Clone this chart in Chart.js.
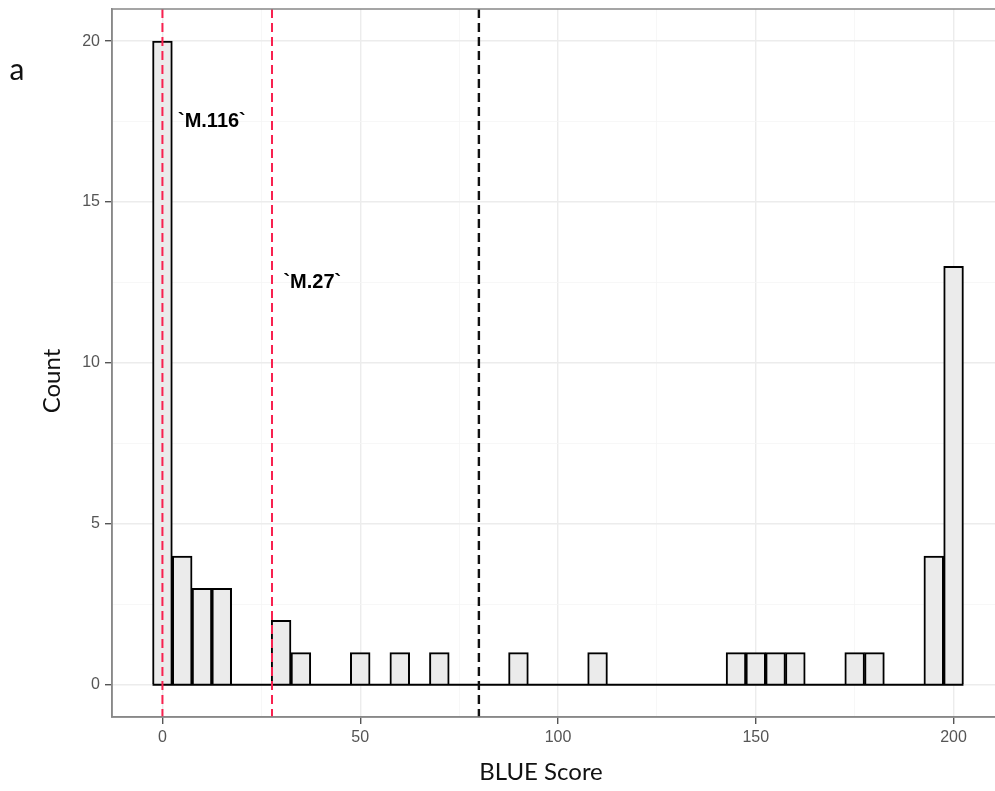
<!DOCTYPE html>
<html>
<head>
<meta charset="utf-8">
<script src="https://cdn.jsdelivr.net/npm/chart.js@4.4.1/dist/chart.umd.min.js"></script>
<style>
  html, body { margin: 0; padding: 0; background: #fff; overflow: hidden; width: 995px; height: 791px; }
  canvas { display: block; }
</style>
</head>
<body>
<canvas id="blueChart" width="1020" height="791"></canvas>
<script>
// histogram bins (centre of each 5-point bin) and counts
const binCenters = [0, 5, 10, 15, 20, 25, 30, 35, 40, 45, 50, 55, 60, 65, 70, 75, 80, 85, 90, 95,
    100, 105, 110, 115, 120, 125, 130, 135, 140, 145, 150, 155, 160, 165, 170, 175, 180, 185, 190, 195, 200];
const counts = [20, 4, 3, 3, 0, 0, 2, 1, 0, 0, 1, 0, 1, 0, 1, 0, 0, 0, 1, 0,
    0, 0, 1, 0, 0, 0, 0, 0, 0, 1, 1, 1, 1, 0, 0, 1, 1, 0, 0, 4, 13];
const binWidth = 5;

const xTickLabels = [0, 50, 100, 150, 200];
const xGridValues = [0, 25, 50, 75, 100, 125, 150, 175, 200];
const yTickLabels = [0, 5, 10, 15, 20];
const yGridValues = [0, 2.5, 5, 7.5, 10, 12.5, 15, 17.5, 20];

// reference lines: two model scores (red) and the mean (black)
const modelLineValues = [0, 27.7];
const meanLineValue = 80;
const modelLabels = ['`M.116`', '`M.27`'];
const modelLabelX = [12.5, 37.9];
const modelLabelY = [17.5, 12.5];

const barData = binCenters.map((x, i) => ({ x: x, y: counts[i] }));
const baseData = [
    { x: binCenters[0] - binWidth / 2, y: 0 },
    { x: binCenters[binCenters.length - 1] + binWidth / 2, y: 0 }
];

const isMajor = (v, list) => list.includes(v);

const overlay = {
    id: 'overlay',
    afterDatasetsDraw(chart) {
        const { ctx, chartArea: a, scales: { x, y } } = chart;
        ctx.save();
        ctx.lineWidth = 2;
        ctx.setLineDash([9, 5]);
        modelLineValues.forEach(v => {
            const px = x.getPixelForValue(v);
            ctx.strokeStyle = '#f8214f';
            ctx.beginPath();
            ctx.moveTo(px, a.top);
            ctx.lineTo(px, a.bottom);
            ctx.stroke();
        });
        const mx = x.getPixelForValue(meanLineValue);
        ctx.strokeStyle = '#111';
        ctx.lineWidth = 2.4;
        ctx.beginPath();
        ctx.moveTo(mx, a.top);
        ctx.lineTo(mx, a.bottom);
        ctx.stroke();
        ctx.setLineDash([]);

        ctx.fillStyle = '#000';
        ctx.font = 'bold 20px "Liberation Sans", Arial, sans-serif';
        ctx.textAlign = 'center';
        ctx.textBaseline = 'middle';
        modelLabels.forEach((t, i) => {
            ctx.fillText(t, x.getPixelForValue(modelLabelX[i]), y.getPixelForValue(modelLabelY[i]));
        });

        // panel border
        ctx.strokeStyle = '#888';
        ctx.lineWidth = 1.5;
        ctx.strokeRect(a.left, a.top, a.right - a.left, a.bottom - a.top);
        ctx.restore();
    },
    afterDraw(chart) {
        const { ctx } = chart;
        ctx.save();
        ctx.fillStyle = '#111';
        ctx.textAlign = 'center';
        ctx.textBaseline = 'middle';
        ctx.font = '24px Lato, sans-serif';
        ctx.fillText('BLUE Score', 541, 772);
        ctx.save();
        ctx.translate(52, 381);
        ctx.rotate(-Math.PI / 2);
        ctx.fillText('Count', 0, 0);
        ctx.restore();
        ctx.font = '30px Lato, sans-serif';
        ctx.fillText('a', 17, 70);
        ctx.restore();
    }
};

const tickFont = { family: 'Liberation Sans', size: 16 };

new Chart(document.getElementById('blueChart').getContext('2d'), {
    type: 'bar',
    data: {
        datasets: [{
            type: 'bar',
            label: 'Count',
            data: barData,
            backgroundColor: '#ebebeb',
            borderColor: '#000',
            borderWidth: 2,
            borderSkipped: 'start',
            barPercentage: 1,
            categoryPercentage: 1,
            order: 2
        }, {
            type: 'line',
            label: 'base',
            data: baseData,
            borderColor: '#000',
            borderWidth: 2,
            pointRadius: 0,
            fill: false,
            order: 1
        }]
    },
    options: {
        responsive: false,
        animation: false,
        layout: { padding: { left: 0, top: 9, right: 16, bottom: 0 } },
        plugins: {
            legend: { display: false },
            tooltip: { enabled: false }
        },
        scales: {
            x: {
                type: 'linear',
                offset: false,
                min: -12.75,
                max: 212.75,
                afterBuildTicks: s => { s.ticks = xGridValues.map(v => ({ value: v })); },
                afterFit: s => { s.height = 74; s.paddingLeft = 0; s.paddingRight = 0; },
                ticks: {
                    autoSkip: false,
                    maxRotation: 0,
                    padding: 4,
                    color: '#555',
                    font: tickFont,
                    callback: v => isMajor(v, xTickLabels) ? v : ''
                },
                grid: {
                    offset: false,
                    color: c => c.tick && isMajor(c.tick.value, xTickLabels) ? '#ececec' : '#f5f5f5',
                    lineWidth: c => c.tick && isMajor(c.tick.value, xTickLabels) ? 1.4 : 0.8,
                    tickColor: c => c.tick && isMajor(c.tick.value, xTickLabels) ? '#555' : 'rgba(0,0,0,0)',
                    tickLength: 7
                },
                border: { display: true, color: '#888', width: 1.5 }
            },
            y: {
                min: -1,
                max: 21,
                afterBuildTicks: s => { s.ticks = yGridValues.map(v => ({ value: v })); },
                afterFit: s => { s.width = 112; s.paddingTop = 0; s.paddingBottom = 0; },
                ticks: {
                    autoSkip: false,
                    padding: 5,
                    color: '#555',
                    font: tickFont,
                    callback: v => isMajor(v, yTickLabels) ? v : ''
                },
                grid: {
                    color: c => c.tick && isMajor(c.tick.value, yTickLabels) ? '#ececec' : '#f5f5f5',
                    lineWidth: c => c.tick && isMajor(c.tick.value, yTickLabels) ? 1.4 : 0.8,
                    tickColor: c => c.tick && isMajor(c.tick.value, yTickLabels) ? '#555' : 'rgba(0,0,0,0)',
                    tickLength: 7
                },
                border: { display: true, color: '#888', width: 1.5 }
            }
        }
    },
    plugins: [overlay]
});
</script>
</body>
</html>
